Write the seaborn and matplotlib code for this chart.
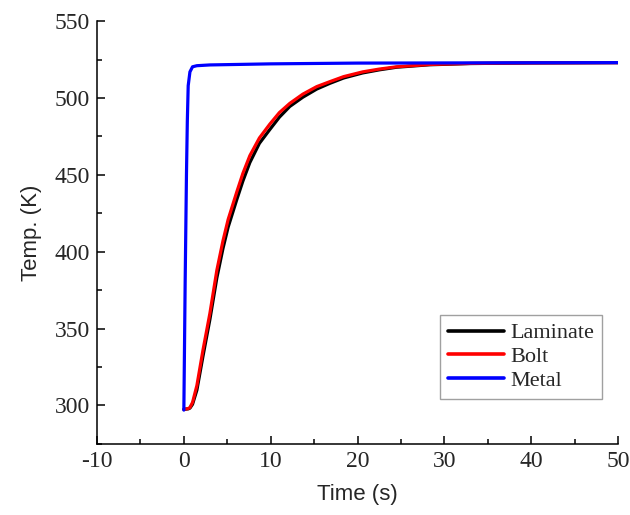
import numpy as np
import pandas as pd
import matplotlib
matplotlib.use("Agg")
import matplotlib.pyplot as plt
import seaborn as sns
from matplotlib.ticker import MultipleLocator

# Time (s) and temperature (K) histories for each component
time_lam = [0, 0.5, 0.7, 1.0, 1.5, 2.2, 3.0, 3.8, 4.5, 5.1, 6.1, 6.8, 7.6,
            8.7, 9.9, 11.0, 12.2, 13.7, 15.3, 16.8, 18.4, 20.6, 22.5, 24.5,
            28.3, 33, 40, 50]
temp_lam = [297.5, 297.8, 298.3, 300.8, 310, 332, 356, 383, 402, 416, 434,
            446, 458, 470.5, 479.5, 487.5, 494.5, 500.5, 505.8, 509.5, 513,
            516.3, 518.3, 520, 521.6, 522.4, 522.8, 523]

time_bolt = [0, 0.5, 0.7, 1.0, 1.5, 2.2, 3.0, 3.8, 4.5, 5.1, 6.1, 6.8, 7.6,
             8.7, 9.9, 11.0, 12.2, 13.7, 15.3, 16.8, 18.4, 20.6, 22.5, 24.5,
             28.3, 33, 40, 50]
temp_bolt = [297.5, 298, 298.7, 302, 313, 336, 360, 388, 407, 421, 439,
             451, 462.5, 474, 483, 490.5, 496.5, 502.5, 507.4, 510.6, 513.9,
             517, 518.8, 520.3, 521.8, 522.5, 522.8, 523]

time_metal = [0, 0.15, 0.3, 0.4, 0.5, 0.7, 1.0, 1.5, 3, 10, 20, 50]
temp_metal = [297, 380, 450, 485, 508, 517, 520.3, 521, 521.5, 522.2,
              522.7, 523]

series = ["Laminate", "Bolt", "Metal"]
colors = ["#000000", "#ff0000", "#0000ff"]

x_ticks = [-10, 0, 10, 20, 30, 40, 50]
y_ticks = [300, 350, 400, 450, 500, 550]

df = pd.concat([
    pd.DataFrame({"Time": time_lam, "Temp": temp_lam, "Part": "Laminate"}),
    pd.DataFrame({"Time": time_bolt, "Temp": temp_bolt, "Part": "Bolt"}),
    pd.DataFrame({"Time": time_metal, "Temp": temp_metal, "Part": "Metal"}),
], ignore_index=True)

sns.set_style("ticks")
serif = ["Liberation Serif", "DejaVu Serif"]
sans = ["Liberation Sans", "DejaVu Sans"]

fig = plt.figure(figsize=(6.3, 5.15), dpi=100)
ax = fig.add_axes([0.154, 0.138, 0.827, 0.821])

sns.lineplot(data=df, x="Time", y="Temp", hue="Part", hue_order=series,
             palette=colors, estimator=None, sort=False, linewidth=2.3,
             ax=ax, legend=False)
for line in ax.get_lines():
    line.set_solid_joinstyle("round")
    line.set_solid_capstyle("round")

ax.set_xlim(-10, 50)
ax.set_ylim(275, 550)
ax.set_xticks(x_ticks)
ax.set_yticks(y_ticks)
ax.xaxis.set_minor_locator(MultipleLocator(5))
ax.yaxis.set_minor_locator(MultipleLocator(25))
ax.set_xticklabels([str(v) for v in x_ticks], fontfamily=serif, fontsize=17)
ax.set_yticklabels([str(v) for v in y_ticks], fontfamily=serif, fontsize=17)
ax.tick_params(which="major", direction="in", length=6, width=1.1, color="black", pad=5)
ax.tick_params(which="minor", direction="in", length=3.5, width=1.1, color="black")

ax.set_xlabel("Time (s)", fontfamily=sans, fontsize=16, labelpad=9)
ax.set_ylabel("Temp. (K)", fontfamily=sans, fontsize=16, labelpad=9)

for side in ["top", "right"]:
    ax.spines[side].set_visible(False)
for side in ["left", "bottom"]:
    ax.spines[side].set_linewidth(1.1)
    ax.spines[side].set_color("black")

handles = [plt.Line2D([], [], color=c, linewidth=2.6) for c in colors]
leg = ax.legend(handles, series, loc="upper right", bbox_to_anchor=(0.969, 0.305),
                borderaxespad=0, frameon=True, fancybox=False, handlelength=2.5,
                handletextpad=0.3, labelspacing=0.15, borderpad=0.35,
                prop={"family": serif, "size": 16})
leg.get_frame().set_edgecolor("#888888")
leg.get_frame().set_linewidth(1.0)

fig.savefig("out.png", dpi=100)
